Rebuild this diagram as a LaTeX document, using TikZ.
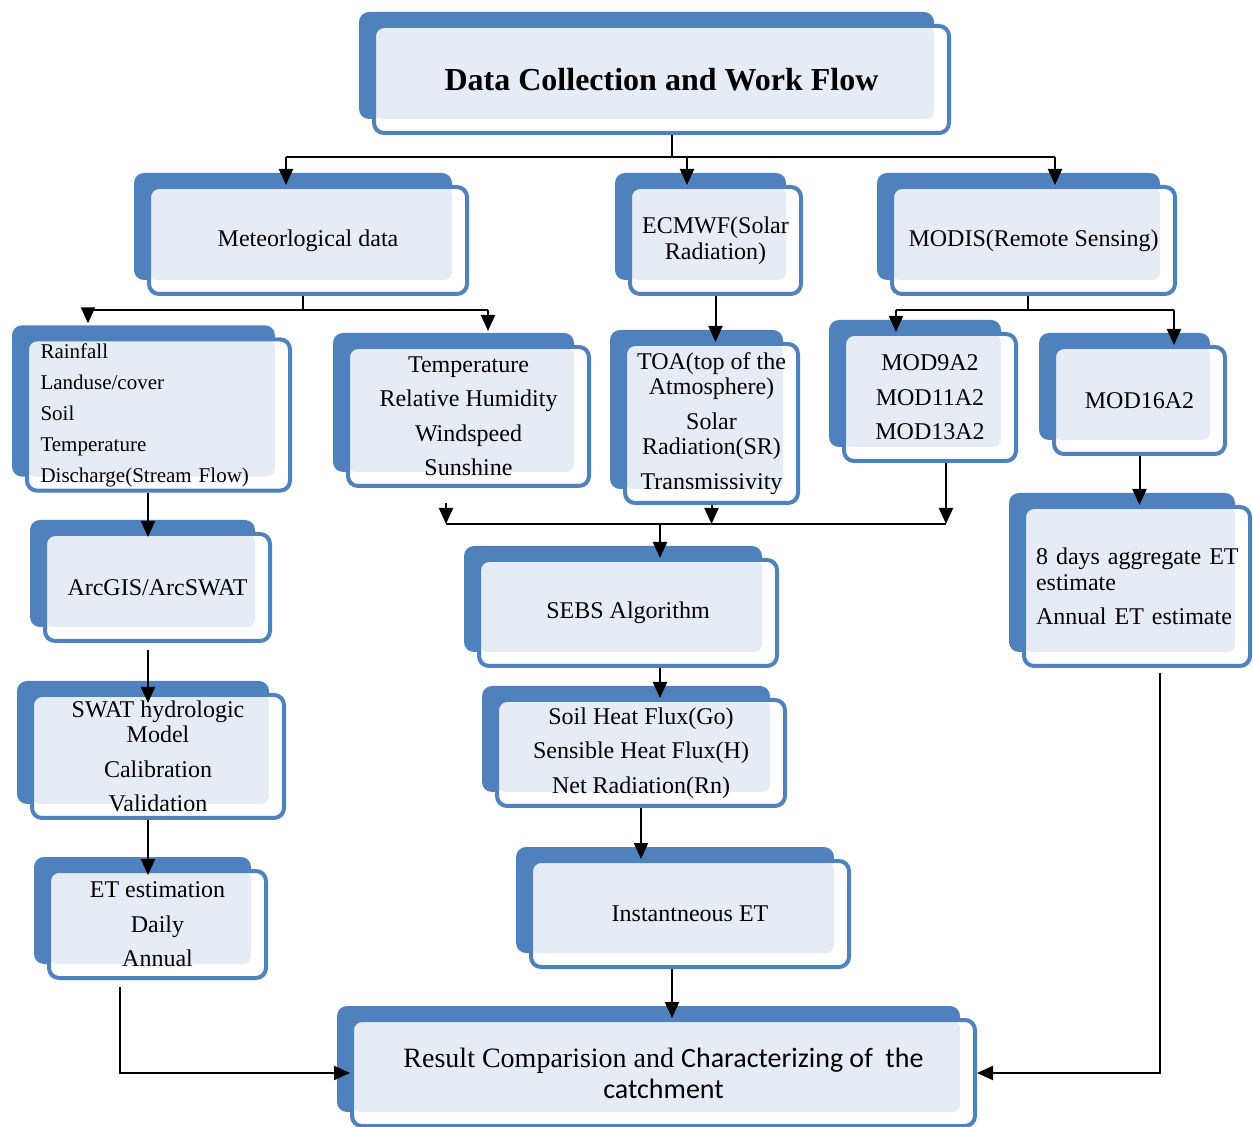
\documentclass[tikz,border=0pt]{standalone}
\usepackage{fontspec}
\setmainfont{Liberation Serif}
\newfontfamily\calibfont{Carlito}
\usepackage{xcolor}
\usepackage{tikz}
\usetikzlibrary{arrows.meta, calc, shadows}

\definecolor{wfblue}{RGB}{79,129,189}
\definecolor{wfpale}{RGB}{230,236,245}

\begin{document}
\begin{tikzpicture}[
    x=0.5pt, y=-0.5pt,
    wfbox/.style={rectangle, draw=wfblue, line width=2pt, rounded corners=5pt, fill=white, align=center, inner sep=2pt, font=\fontsize{12}{12.75}\selectfont,
        copy shadow={shadow xshift=-7.5pt, shadow yshift=7pt, fill=wfblue, draw=none},
        path picture={\fill[wfpale, rounded corners=4pt] (path picture bounding box.north west) rectangle ([xshift=-7.5pt, yshift=7pt]path picture bounding box.south east);}},
    wfline/.style={line width=1pt},
    wfarrow/.style={-{Triangle[length=8pt, width=7pt]}, line width=1pt}
]
\useasboundingbox (0,0) rectangle (1253,1127);

% Row 0: Title
\node[wfbox, minimum width=287.5pt, minimum height=53.5pt, font=\bfseries\fontsize{16}{18}\selectfont] (title) at (661.5,79.5) {Data Collection and Work Flow};

% Row 1: data sources
\node[wfbox, minimum width=159pt, minimum height=53.5pt] (met) at (308,240.5) {Meteorlogical data};
\node[wfbox, minimum width=85.5pt, minimum height=53.5pt] (ecmwf) at (715.5,240.5) {ECMWF(Solar\\Radiation)};
\node[wfbox, minimum width=141.5pt, minimum height=53.5pt] (modis) at (1033.5,240.5) {MODIS(Remote Sensing)};

% Row 2: inputs
\node[wfbox, minimum height=68pt, text width=118pt, inner xsep=6.75pt, align=left, font=\fontsize{10.5}{12.75}\selectfont] (rain) at (158.5,415) {Rainfall\\[2.75pt]Landuse/cover\\[2.75pt]Soil\\[2.75pt]Temperature\\[2.75pt]Discharge(Stream Flow)};
\node[wfbox, minimum width=120.5pt, minimum height=69.5pt] (temp) at (468.5,416.5) {Temperature\\[4.5pt]Relative Humidity\\[4.5pt]Windspeed\\[4.5pt]Sunshine};
\node[wfbox, minimum width=86.5pt, minimum height=79.5pt] (toa) at (711.5,423.5) {TOA(top of the\\Atmosphere)\\[4.5pt]Solar\\Radiation(SR)\\[4.5pt]Transmissivity};
\node[wfbox, minimum width=86pt, minimum height=63.5pt] (mod9) at (930,397.5) {MOD9A2\\[4.5pt]MOD11A2\\[4.5pt]MOD13A2};
\node[wfbox, minimum width=85.5pt, minimum height=53.5pt] (mod16) at (1139.5,400.5) {MOD16A2};

% Left column: SWAT branch
\node[wfbox, minimum width=112.5pt, minimum height=53.5pt] (arcgis) at (157.5,587.5) {ArcGIS/ArcSWAT};
\node[wfbox, minimum width=126pt, minimum height=61.5pt] (swat) at (158,756.5) {SWAT hydrologic\\Model\\[4.5pt]Calibration\\[4.5pt]Validation};
\node[wfbox, minimum width=108.5pt, minimum height=53.5pt] (etest) at (157.5,924.5) {ET estimation\\[4.5pt]Daily\\[4.5pt]Annual};

% Centre column: SEBS branch
\node[wfbox, minimum width=149pt, minimum height=53pt] (sebs) at (628,613) {SEBS Algorithm};
\node[wfbox, minimum width=144pt, minimum height=53pt] (soil) at (641,753) {Soil Heat Flux(Go)\\[4.5pt]Sensible Heat Flux(H)\\[4.5pt]Net Radiation(Rn)};
\node[wfbox, minimum width=159pt, minimum height=53pt] (inst) at (690,914) {Instantneous ET};

% Right column: MODIS ET
\node[wfbox, minimum height=79.5pt, text width=107pt, inner xsep=3pt, align=left] (eight) at (1137,586.5) {\hspace*{3pt}8 days aggregate ET\\\hspace*{3pt}estimate\\[4.5pt]\hspace*{3pt}Annual ET estimate};

% Bottom: result
\node[wfbox, minimum width=311.5pt, minimum height=53pt, font=\fontsize{14}{15.5}\selectfont] (result) at (663.5,1073) {Result Comparision and {\calibfont Characterizing of~ the}\\{\calibfont catchment}};

% === Arrows ===
% Title -> sources
\coordinate (tc) at (672,157);
\coordinate (tl) at (286,157);
\coordinate (tm) at (687,157);
\coordinate (tr) at (1055,157);
\draw[wfline] (title.south -| tc) -- (tc);
\draw[wfline] (tl) -- (tr);
\draw[wfarrow] (tl) -- (tl |- met.north);
\draw[wfarrow] (tm) -- (tm |- ecmwf.north);
\draw[wfarrow] (tr) -- (tr |- modis.north);

% Meteorological split
\coordinate (mc) at (303,310);
\coordinate (ml) at (88,310);
\coordinate (mr) at (488,310);
\draw[wfline] (met.south -| mc) -- (mc);
\draw[wfline] (ml) -- (mr);
\draw[wfarrow] (ml) -- ($(ml |- rain.north)+(0,-14)$);
\draw[wfarrow] (mr) -- ($(mr |- temp.north)+(0,-14)$);

% ECMWF -> TOA
\draw[wfarrow] (ecmwf.south) -- (ecmwf.south |- toa.north);

% MODIS split
\coordinate (dc) at (1028,310);
\coordinate (dl) at (896,310);
\coordinate (dr) at (1174,310);
\draw[wfline] (modis.south -| dc) -- (dc);
\draw[wfline] (dl) -- (dr);
\draw[wfarrow] (dl) -- (dl |- mod9.north);
\draw[wfarrow] (dr) -- (dr |- mod16.north);

% Left column
\coordinate (lc) at (148,500);
\coordinate (ec) at (120,987);
\draw[wfarrow] (rain.south -| lc) -- ($(arcgis.north -| lc)+(0,5)$);
\draw[wfarrow] ($(arcgis.south -| lc)+(0,7)$) -- ($(swat.north -| lc)+(0,10)$);
\draw[wfarrow] (swat.south -| lc) -- ($(etest.north -| lc)+(0,6)$);
\draw[wfarrow] ($(etest.south -| ec)+(0,7)$) |- (result.west);

% Centre merge
\coordinate (cl) at (446,524);
\coordinate (cm) at (660,524);
\coordinate (cr) at (946,524);
\draw[wfarrow] ($(temp.south -| cl)+(0,15)$) -- (cl);
\draw[wfarrow] (toa.south) -- (toa.south |- cl);
\draw[wfarrow] (mod9.south -| cr) -- (cr);
\draw[wfline] (cl) -- (cr);
\draw[wfarrow] (cm) -- (cm |- sebs.north);
\draw[wfarrow] (sebs.south -| cm) -- (soil.north -| cm);
\draw[wfarrow] (soil.south) -- (soil.south |- inst.north);
\coordinate (bc) at (672,990);
\draw[wfarrow] (inst.south -| bc) -- (result.north -| bc);

% Right column
\coordinate (rc) at (1160,673);
\draw[wfarrow] (mod16.south) -- (mod16.south |- eight.north);
\draw[wfarrow] ($(eight.south -| rc)+(0,5)$) |- (result.east);
\end{tikzpicture}
\end{document}
